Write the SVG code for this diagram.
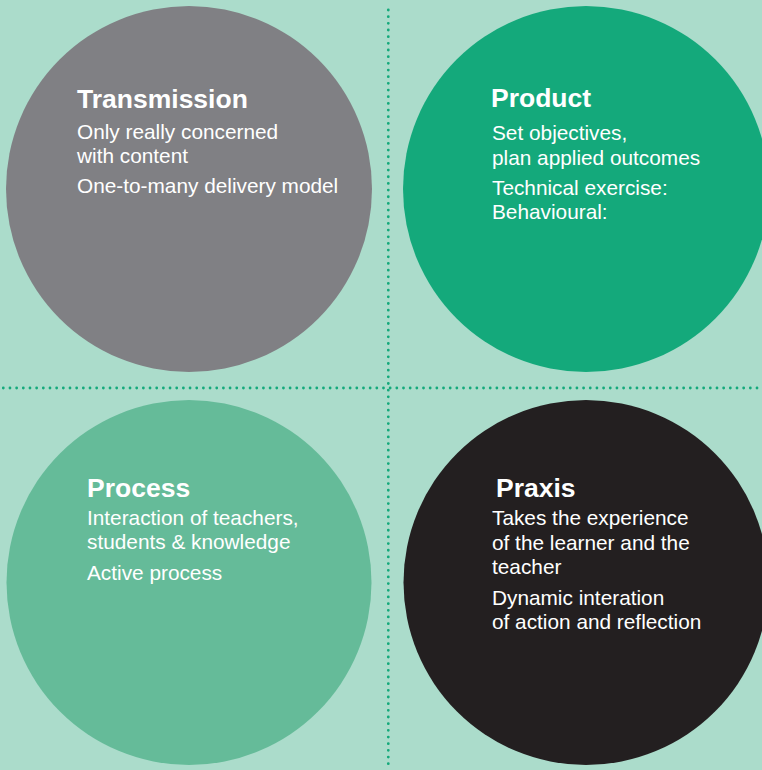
<svg xmlns="http://www.w3.org/2000/svg" width="762" height="770" viewBox="0 0 762 770">
<style>
.h{font-family:"Liberation Sans",Arial,sans-serif;font-weight:bold;font-size:26.5px;fill:#ffffff}
.t{font-family:"Liberation Sans",Arial,sans-serif;font-size:20.8px;fill:#ffffff}
.dot{stroke:#14a97b;stroke-width:2.8;stroke-linecap:round;stroke-dasharray:0 6.67;fill:none}
</style>
<rect width="762" height="770" fill="#abdccb"/>
<g id="connectors">
<line class="dot" x1="388.3" y1="10" x2="388.3" y2="770"/>
<line class="dot" x1="3.3" y1="388" x2="762" y2="388"/>
</g>
<g id="transmission">
<circle cx="189" cy="189" r="183" fill="#808084"/>
<text class="h" x="77" y="108">Transmission</text>
<text class="t" x="77" y="139">Only really concerned</text>
<text class="t" x="77" y="163">with content</text>
<text class="t" x="77" y="193">One-to-many delivery model</text>
</g>
<g id="product">
<circle cx="586" cy="189" r="183" fill="#14a97b"/>
<text class="h" x="491" y="107">Product</text>
<text class="t" x="492" y="140">Set objectives,</text>
<text class="t" x="492" y="165">plan applied outcomes</text>
<text class="t" x="492" y="195">Technical exercise:</text>
<text class="t" x="492" y="219">Behavioural:</text>
</g>
<g id="process">
<circle cx="189" cy="582.5" r="182.5" fill="#65bb99"/>
<text class="h" x="87" y="497">Process</text>
<text class="t" x="87" y="525">Interaction of teachers,</text>
<text class="t" x="87" y="549">students &amp; knowledge</text>
<text class="t" x="87" y="580">Active process</text>
</g>
<g id="praxis">
<circle cx="586" cy="582.5" r="182.5" fill="#231f20"/>
<text class="h" x="496" y="497">Praxis</text>
<text class="t" x="492" y="525">Takes the experience</text>
<text class="t" x="492" y="550">of the learner and the</text>
<text class="t" x="492" y="574">teacher</text>
<text class="t" x="492" y="605">Dynamic interation</text>
<text class="t" x="492" y="629">of action and reflection</text>
</g>
</svg>
